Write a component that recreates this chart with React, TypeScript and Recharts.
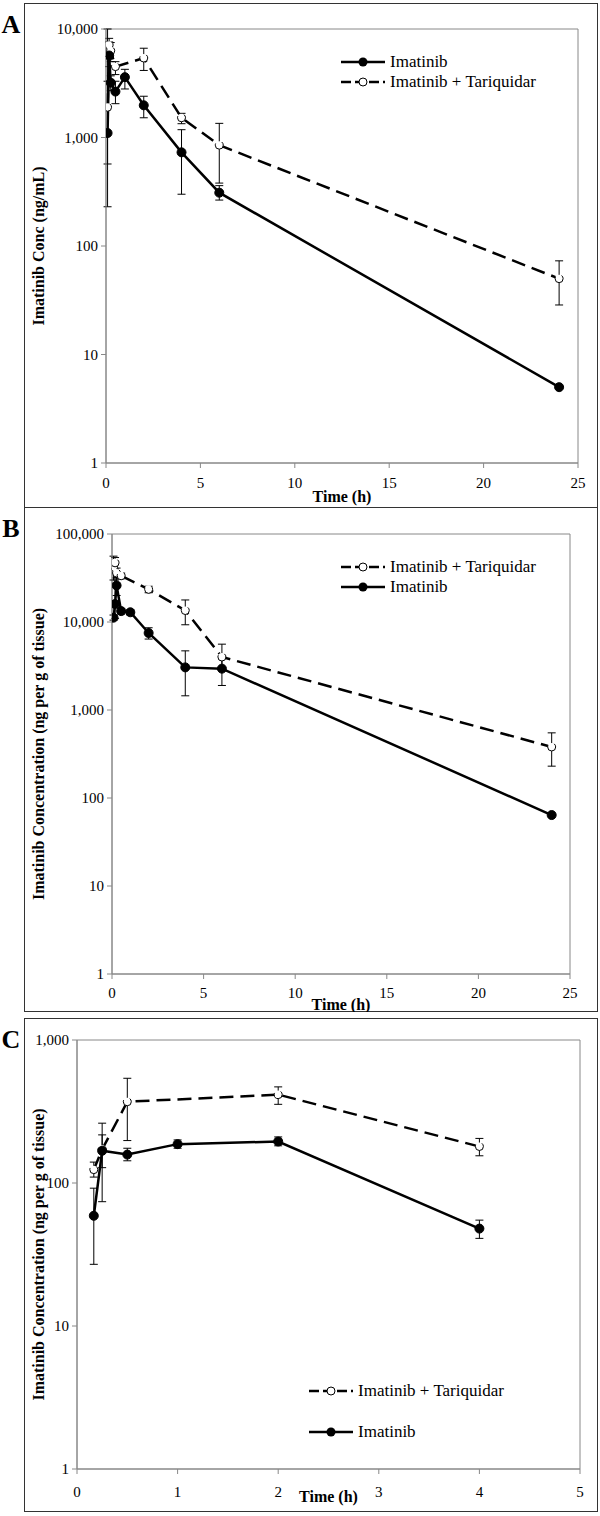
import React from "react";
import { LineChart, Line, XAxis, YAxis, ErrorBar, ReferenceArea, Label } from "recharts";

const SERIF = "Liberation Serif, Times New Roman, Times, DejaVu Serif, serif";

// ---- Panel A: plasma ----
const aImaT = [0.083, 0.167, 0.25, 0.5, 1, 2, 4, 6, 24];
const aImaV = [1100, 5700, 3200, 2650, 3600, 1980, 730, 310, 5];
const aImaLo = [230, 4500, 2700, 2050, 2800, 1520, 300, 265, null];
const aImaHi = [10000, 7600, 3700, 3300, 4250, 2400, 1180, 360, null];
const aTarT = [0.083, 0.167, 0.25, 0.5, 2, 4, 6, 24];
const aTarV = [1900, 7100, 6300, 4500, 5400, 1520, 850, 50];
const aTarLo = [570, 5600, 5000, 3800, 4150, 1340, 380, 28.6];
const aTarHi = [3300, 8200, 7500, 5000, 6650, 1670, 1350, 73];

// ---- Panel B: tissue ----
const bImaT = [0.083, 0.167, 0.25, 0.5, 1, 2, 4, 6, 24];
const bImaV = [11200, 16000, 26000, 13300, 12900, 7500, 3050, 2950, 64];
const bImaLo = [10500, 11000, 20000, 12300, 12000, 6400, 1450, 1900, null];
const bImaHi = [12000, 30000, 32000, 14300, 13800, 8600, 4700, 4100, null];
const bTarT = [0.083, 0.167, 0.25, 0.5, 2, 4, 6, 24];
const bTarV = [42000, 47000, 36000, 33500, 23500, 13500, 4000, 380];
const bTarLo = [30000, 40000, 31000, 31000, 21500, 9300, 2900, 230];
const bTarHi = [56000, 54000, 41000, 36000, 25500, 17800, 5600, 550];

// ---- Panel C: tissue, first 4 h ----
const cImaT = [0.167, 0.25, 0.5, 1, 2, 4];
const cImaV = [59, 168, 158, 187, 195, 48];
const cImaLo = [27, 128, 143, 175, 182, 41];
const cImaHi = [92, 217, 175, 200, 210, 55];
const cTarT = [0.167, 0.25, 0.5, 2, 4];
const cTarV = [124, 172, 370, 415, 180];
const cTarLo = [110, 74, 198, 355, 155];
const cTarHi = [140, 262, 540, 470, 205];

const ticksA = [0, 5, 10, 15, 20, 25];
const ticksC = [0, 1, 2, 3, 4, 5];
const yTicksA = [1, 10, 100, 1000, 10000];
const yTicksB = [1, 10, 100, 1000, 10000, 100000];
const yTicksC = [1, 10, 100, 1000];

const LABEL_IMA = "Imatinib";
const LABEL_TAR = "Imatinib + Tariquidar";

function build(ts: number[], vs: number[], lo: (number | null)[], hi: (number | null)[]) {
  return ts.map((t, i) => ({
    t,
    v: vs[i],
    err: lo[i] == null ? null : [vs[i] - (lo[i] as number), (hi[i] as number) - vs[i]],
  }));
}

function LegendRow({ dashed, text }: { dashed: boolean; text: string }) {
  return (
    <div style={{ display: "flex", alignItems: "center", height: 20 }}>
      <svg width={46} height={12} style={{ marginRight: 4 }}>
        <line x1={1} y1={6} x2={45} y2={6} stroke="#000" strokeWidth={2.5} strokeDasharray={dashed ? "10 4" : undefined} />
        {dashed ? (
          <circle cx={23} cy={6} r={4} fill="#fff" stroke="#000" strokeWidth={1} />
        ) : (
          <circle cx={23} cy={6} r={4.5} fill="#000" />
        )}
      </svg>
      <span>{text}</span>
    </div>
  );
}

type PanelProps = {
  letter: string;
  top: number;
  height: number;
  margin: { top: number; right: number; left: number; bottom: number };
  yWidth: number;
  xHeight: number;
  xMax: number;
  xTicks: number[];
  yTicks: number[];
  tickMargin: number;
  yTitle: string;
  titleDy: number;
  ima: ReturnType<typeof build>;
  tar: ReturnType<typeof build>;
  legend: { left: number; top: number; gap: number; tarFirst: boolean };
};

function Panel(p: PanelProps) {
  const yMax = p.yTicks[p.yTicks.length - 1];
  const rows = p.legend.tarFirst
    ? [{ d: true, t: LABEL_TAR }, { d: false, t: LABEL_IMA }]
    : [{ d: false, t: LABEL_IMA }, { d: true, t: LABEL_TAR }];
  return (
    <div style={{ position: "absolute", left: 24, top: p.top, width: 574, height: p.height }}>
      <div
        style={{
          position: "absolute",
          left: -24,
          top: 9,
          width: 22,
          textAlign: "center",
          fontFamily: SERIF,
          fontWeight: "bold",
          fontSize: 26,
          lineHeight: "26px",
        }}
      >
        {p.letter}
      </div>
      <LineChart width={574} height={p.height} margin={p.margin} style={{ fontFamily: SERIF }}>
        <XAxis
          type="number"
          dataKey="t"
          domain={[0, p.xMax]}
          ticks={p.xTicks}
          height={p.xHeight}
          stroke="#888"
          tickSize={5}
          tickMargin={p.tickMargin}
          tick={{ fill: "#000", fontSize: 15, fontFamily: SERIF }}
          allowDataOverflow
        >
          <Label
            content={(props: any) => {
              const vb = props.viewBox;
              return (
                <text
                  x={vb.x + vb.width / 2}
                  y={vb.y + p.titleDy}
                  textAnchor="middle"
                  fontWeight="bold"
                  fontSize={16}
                  fontFamily={SERIF}
                  fill="#000"
                >
                  Time (h)
                </text>
              );
            }}
          />
        </XAxis>
        <YAxis
          type="number"
          scale="log"
          domain={[1, yMax]}
          ticks={p.yTicks}
          width={p.yWidth}
          stroke="#888"
          tickSize={5}
          tickMargin={3}
          tick={{ fill: "#000", fontSize: 15, fontFamily: SERIF }}
          tickFormatter={(v: number) => v.toLocaleString("en-US")}
          allowDataOverflow
        >
          <Label
            content={(props: any) => {
              const vb = props.viewBox;
              const cx = 20;
              const cy = vb.y + vb.height / 2;
              return (
                <text
                  x={cx}
                  y={cy}
                  transform={`rotate(-90 ${cx} ${cy})`}
                  textAnchor="middle"
                  fontWeight="bold"
                  fontSize={16}
                  fontFamily={SERIF}
                  fill="#000"
                >
                  {p.yTitle}
                </text>
              );
            }}
          />
        </YAxis>
        <ReferenceArea x1={0} x2={p.xMax} y1={1} y2={yMax} fill="none" stroke="#888" strokeWidth={1} />
        <Line
          data={p.tar}
          dataKey="v"
          stroke="#000"
          strokeWidth={2.5}
          strokeDasharray="14 7"
          dot={{ r: 4, fill: "#fff", stroke: "#000", strokeWidth: 1 }}
          isAnimationActive={false}
        >
          <ErrorBar dataKey="err" direction="y" width={4} stroke="#000" strokeWidth={1} />
        </Line>
        <Line
          data={p.ima}
          dataKey="v"
          stroke="#000"
          strokeWidth={2.5}
          dot={{ r: 4.5, fill: "#000", stroke: "#000", strokeWidth: 1 }}
          isAnimationActive={false}
        >
          <ErrorBar dataKey="err" direction="y" width={4} stroke="#000" strokeWidth={1} />
        </Line>
      </LineChart>
      <div
        style={{
          position: "absolute",
          left: p.legend.left,
          top: p.legend.top,
          fontFamily: SERIF,
          fontSize: 17,
          display: "flex",
          flexDirection: "column",
          gap: p.legend.gap,
        }}
      >
        {rows.map((r) => (
          <LegendRow key={r.t} dashed={r.d} text={r.t} />
        ))}
      </div>
    </div>
  );
}

const frame = (top: number, height: number) => (
  <div
    style={{
      position: "absolute",
      left: 24,
      top,
      width: 574,
      height,
      border: "1.5px solid #333",
      boxSizing: "border-box",
    }}
  />
);

export default function App() {
  return (
    <div style={{ position: "absolute", left: 0, top: 0, width: 600, height: 1516, background: "#fff" }}>
      {frame(3, 505)}
      {frame(507, 505)}
      {frame(1018, 494)}
      <Panel
        letter="A"
        top={3}
        height={504}
        margin={{ top: 26, right: 20, left: 0, bottom: 0 }}
        yWidth={82}
        xHeight={44}
        xMax={25}
        xTicks={ticksA}
        yTicks={yTicksA}
        tickMargin={9}
        yTitle="Imatinib Conc (ng/mL)"
        titleDy={39}
        ima={build(aImaT, aImaV, aImaLo, aImaHi)}
        tar={build(aTarT, aTarV, aTarLo, aTarHi)}
        legend={{ left: 316, top: 49, gap: 0, tarFirst: false }}
      />
      <Panel
        letter="B"
        top={507}
        height={505}
        margin={{ top: 27, right: 28, left: 0, bottom: 0 }}
        yWidth={88}
        xHeight={38}
        xMax={25}
        xTicks={ticksA}
        yTicks={yTicksB}
        tickMargin={8}
        yTitle="Imatinib Concentration (ng per g of tissue)"
        titleDy={36}
        ima={build(bImaT, bImaV, bImaLo, bImaHi)}
        tar={build(bTarT, bTarV, bTarLo, bTarHi)}
        legend={{ left: 316, top: 50, gap: 0, tarFirst: true }}
      />
      <Panel
        letter="C"
        top={1018}
        height={493}
        margin={{ top: 22, right: 18, left: 0, bottom: 0 }}
        yWidth={53}
        xHeight={42}
        xMax={5}
        xTicks={ticksC}
        yTicks={yTicksC}
        tickMargin={12}
        yTitle="Imatinib Concentration (ng per g of tissue)"
        titleDy={33}
        ima={build(cImaT, cImaV, cImaLo, cImaHi)}
        tar={build(cTarT, cTarV, cTarLo, cTarHi)}
        legend={{ left: 284, top: 363, gap: 21, tarFirst: true }}
      />
    </div>
  );
}
